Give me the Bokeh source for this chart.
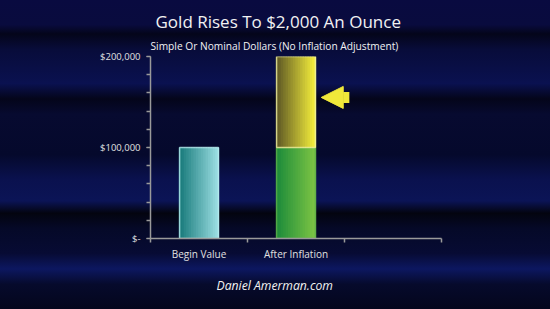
from bokeh.plotting import figure
from bokeh.models import (Range1d, FixedTicker, Title, Arrow, NormalHead)
from bokeh.embed import file_html
from bokeh.resources import INLINE

# ---- data ----
categories = ["Begin Value", "After Inflation"]
base_values = [100000, 100000]
gain_values = [0, 100000]
y_ticks = [0, 100000, 200000]
y_tick_labels = {0: "$-", 100000: "$100,000", 200000: "$200,000"}
arrow_value = 155000
title_text = "Gold Rises To $2,000 An Ounce"
subtitle_text = "Simple Or Nominal Dollars (No Inflation Adjustment)"
footer_text = "Daniel Amerman.com"

FONT = "Open Sans"
W, H = 550, 309

p = figure(width=W, height=H, output_backend="svg", toolbar_location=None,
           x_range=Range1d(0, 3), y_range=Range1d(0, 200000),
           min_border_left=150, min_border_right=109,
           min_border_top=56, min_border_bottom=71)
p.background_fill_alpha = 0
p.border_fill_alpha = 0
p.outline_line_color = None
p.grid.visible = False
p.styles = {"background": "linear-gradient(180deg, #090a40 0%, #090b3e 8%, #04051a 11%, #080c3a 16%, "
                          "#0a1150 27%, #04051a 32%, #070a30 37%, #05092c 50%, #0a114e 58%, "
                          "#0b1456 65%, #03040f 69%, #050928 74%, #070b34 82%, #0c1760 87%, "
                          "#060a2c 92%, #04061c 100%)"}

# ---- gradient bars as thin strips ----
def lerp(c1, c2, t):
    a = [int(c1[i:i + 2], 16) for i in (1, 3, 5)]
    b = [int(c2[i:i + 2], 16) for i in (1, 3, 5)]
    return "#%02x%02x%02x" % tuple(int(round(a[k] + (b[k] - a[k]) * t)) for k in range(3))

BAR_W = 0.4
N = 16
xs = [i + 0.5 for i in range(len(categories))]

def gradient_bar(x, bottom, top, c_left, c_right, outline):
    sx, sb, st, sc = [], [], [], []
    for k in range(N):
        t = (k + 0.5) / N
        sx.append(x - BAR_W / 2 + BAR_W * t)
        sb.append(bottom)
        st.append(top)
        sc.append(lerp(c_left, c_right, t))
    p.vbar(x=sx, bottom=sb, top=st, width=BAR_W / N * 1.6, fill_color=sc, line_color=None)
    p.vbar(x=[x], bottom=[bottom], top=[top], width=BAR_W, fill_color=None,
           line_color=outline, line_width=1.5, line_alpha=0.8)

# Begin value bar (teal)
gradient_bar(xs[0], 0, base_values[0], "#157878", "#9adde2", "#b8eef0")
# After inflation: green base + yellow gain
gradient_bar(xs[1], 0, base_values[1], "#1a8a3a", "#7cc444", "#5fae4a")
gradient_bar(xs[1], base_values[1], base_values[1] + gain_values[1], "#5a5424", "#f4ee3c", "#f0f0a0")

# ---- arrow pointing at gain ----
arr = Arrow(x_start=2.05, x_end=1.76, y_start=arrow_value, y_end=arrow_value,
            line_color="#f0e83a", line_width=11, line_cap="butt",
            end=NormalHead(size=22, fill_color="#f0e83a", line_color="#f0e83a", line_width=1))
p.add_layout(arr)

# ---- axes ----
p.yaxis.ticker = FixedTicker(ticks=y_ticks, minor_ticks=list(range(0, 200001, 20000)))
p.yaxis.major_label_overrides = y_tick_labels
p.xaxis.ticker = FixedTicker(ticks=xs, minor_ticks=[0, 1, 2, 3])
p.xaxis.major_label_overrides = {xs[i]: categories[i] for i in range(len(categories))}
for ax in (p.xaxis, p.yaxis):
    ax.axis_line_color = "#9a9a9a"
    ax.axis_line_width = 1.5
    ax.minor_tick_line_color = "#9a9a9a"
    ax.minor_tick_line_width = 1.5
    ax.minor_tick_out = 4
    ax.minor_tick_in = 0
    ax.major_label_text_color = "#e0e0e0"
    ax.major_label_text_font = FONT
p.xaxis.major_tick_line_color = None
p.yaxis.major_tick_line_color = "#9a9a9a"
p.yaxis.major_tick_out = 4
p.yaxis.major_tick_in = 0
p.yaxis.major_label_text_font_size = "9.5px"
p.xaxis.major_label_text_font_size = "10px"
p.xaxis.major_label_standoff = 2
p.yaxis.major_label_standoff = 6

# ---- texts ----
def mk_title(text, size, offset, style="normal", standoff=0, lh=1.0):
    return Title(text=text, align="left", offset=offset, text_color="#f2f2f2",
                 text_font=FONT, text_font_size=size, text_font_style=style,
                 standoff=standoff, text_line_height=lh)

p.add_layout(mk_title(subtitle_text, "10.2px", 0, standoff=8, lh=1.0), "above")
p.add_layout(mk_title(title_text, "17px", 5, standoff=0, lh=0.6), "above")
p.add_layout(mk_title(footer_text, "12.2px", 66, "italic", standoff=22), "below")

open("out.html", "w").write(file_html(p, INLINE))
